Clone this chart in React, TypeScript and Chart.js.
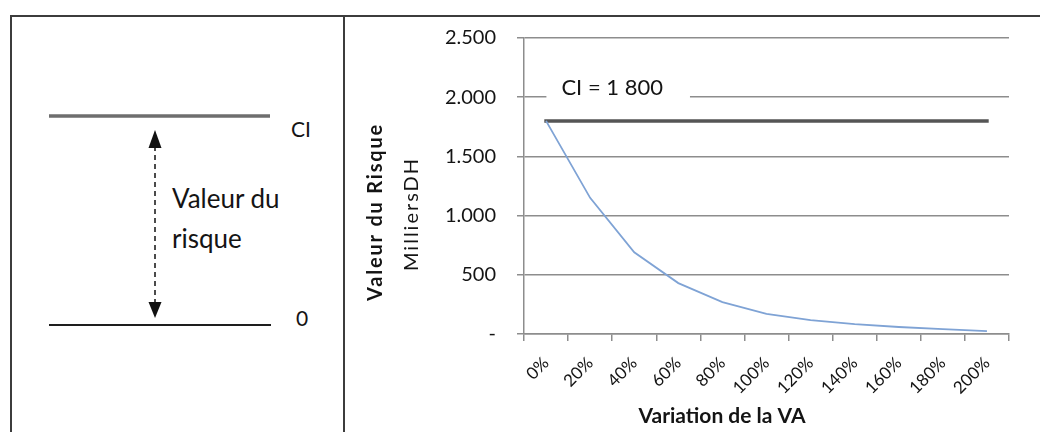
import React, { useEffect, useRef } from 'react';
import { Chart, registerables } from 'chart.js';

Chart.register(...registerables);

const categories = ['0%', '20%', '40%', '60%', '80%', '100%', '120%', '140%', '160%', '180%', '200%'];
const valeurRisque = [1800, 1150, 690, 430, 270, 170, 118, 84, 59, 42, 25];
const plafondCI = [1800, 1800, 1800, 1800, 1800, 1800, 1800, 1800, 1800, 1800, 1800];
const yMin = 0;
const yMax = 2500;
const yStep = 500;
const ciLabel = 'CI = 1 800';
const yTitle = 'Valeur du Risque';
const yUnit = 'MilliersDH';
const xTitle = 'Variation de la VA';

const GRID = '#8d8d8d';
const TEXT = '#141414';

const fmt = (v: number) => (v === 0 ? '-' : String(v).replace(/\B(?=(\d{3})+(?!\d))/g, '.'));

const decorations = {
  id: 'decorations',
  afterDatasetsDraw(chart: any) {
    const { ctx, scales } = chart;
    const x = scales.x;
    const y = scales.y;
    const cx = (x.getPixelForValue(1) + x.getPixelForValue(2)) / 2;
    const cy = y.getPixelForValue(2075);
    ctx.save();
    ctx.font = '22px Lato';
    const w = ctx.measureText(ciLabel).width;
    ctx.fillStyle = '#ffffff';
    ctx.fillRect(cx - w / 2 - 15, cy - 14, w + 42, 28);
    ctx.fillStyle = TEXT;
    ctx.textAlign = 'center';
    ctx.textBaseline = 'middle';
    ctx.fillText(ciLabel, cx, cy);
    ctx.restore();
  },
  afterDraw(chart: any) {
    const { ctx, chartArea } = chart;
    ctx.save();
    ctx.fillStyle = TEXT;
    ctx.textAlign = 'center';
    ctx.textBaseline = 'alphabetic';
    // y title
    ctx.save();
    ctx.translate(chartArea.left - 142, chartArea.top + 174);
    ctx.rotate(-Math.PI / 2);
    ctx.font = 'bold 20px Lato';
    (ctx as any).letterSpacing = '1.8px';
    ctx.fillText(yTitle, 0, 0);
    ctx.restore();
    ctx.save();
    ctx.translate(chartArea.left - 106, chartArea.top + 176);
    ctx.rotate(-Math.PI / 2);
    ctx.font = '20px Lato';
    (ctx as any).letterSpacing = '2px';
    ctx.fillText(yUnit, 0, 0);
    ctx.restore();
    // x title
    ctx.font = 'bold 21px Lato';
    ctx.fillText(xTitle, chartArea.left + 198, chartArea.bottom + 89);
    ctx.restore();
  },
};

function RightChart() {
  const ref = useRef<HTMLCanvasElement>(null);
  useEffect(() => {
    if (!ref.current) return;
    const chart = new Chart(ref.current, {
      type: 'line',
      data: {
        labels: categories,
        datasets: [
          {
            label: 'Valeur du risque',
            data: valeurRisque,
            borderColor: '#7fa3d5',
            borderWidth: 1.8,
            pointRadius: 0,
            tension: 0,
          },
          {
            label: 'CI',
            data: plafondCI,
            borderColor: '#555555',
            borderWidth: 3.5,
            pointRadius: 0,
            borderCapStyle: 'square',
          },
        ],
      },
      options: {
        responsive: false,
        animation: false,
        layout: { padding: { top: 20, right: 31, left: 0, bottom: 0 } },
        plugins: { legend: { display: false }, tooltip: { enabled: false } },
        scales: {
          x: {
            offset: true,
            grid: { display: true, offset: true, drawOnChartArea: false, color: GRID, lineWidth: 1.5, tickLength: 7 },
            border: { color: GRID, width: 1.5 },
            ticks: {
              minRotation: 45,
              maxRotation: 45,
              autoSkip: false,
              color: TEXT,
              padding: 12,
              font: { family: 'Lato', size: 17 },
            },
            afterFit: (s: any) => {
              s.height = 98;
              s.paddingLeft = 0;
              s.paddingRight = 0;
            },
          },
          y: {
            min: yMin,
            max: yMax,
            ticks: {
              stepSize: yStep,
              color: TEXT,
              padding: 21,
              font: { family: 'Lato', size: 20 },
              callback: (v: any) => fmt(Number(v)),
            },
            grid: { color: GRID, lineWidth: 1.5, tickLength: 7 },
            border: { color: GRID, width: 1.5 },
            afterFit: (s: any) => {
              s.width = 178;
              s.paddingTop = 0;
              s.paddingBottom = 0;
            },
          },
        },
      },
      plugins: [decorations],
    });
    return () => chart.destroy();
  }, []);
  return (
    <canvas
      ref={ref}
      width={694}
      height={414}
      style={{ position: 'absolute', left: 346, top: 18, width: 694, height: 414 }}
    />
  );
}

export default function App() {
  useEffect(() => {
    document.body.style.margin = '0';
  }, []);
  const txt = { fontFamily: 'Lato', fill: '#141414' } as const;
  return (
    <div style={{ position: 'relative', width: 1040, height: 432, overflow: 'hidden', background: '#fff' }}>
      <div style={{ position: 'absolute', left: 10, top: 15, width: 1030, height: 2, background: '#3c3c3c' }} />
      <div style={{ position: 'absolute', left: 10, top: 15, width: 2, height: 417, background: '#3c3c3c' }} />
      <div style={{ position: 'absolute', left: 343, top: 15, width: 2, height: 417, background: '#3c3c3c' }} />
      <svg width={340} height={432} style={{ position: 'absolute', left: 0, top: 0 }}>
        <line x1={49} x2={270} y1={116} y2={116} stroke="#6e6e6e" strokeWidth={3.5} />
        <line x1={49} x2={271} y1={325} y2={325} stroke="#1e1e1e" strokeWidth={2} />
        <line x1={155} x2={155} y1={146} y2={304} stroke="#111" strokeWidth={1.5} strokeDasharray="5 4" />
        <polygon points="155,130 148.5,148 161.5,148" fill="#111" />
        <polygon points="155,318 148.5,302 161.5,302" fill="#111" />
        <text x={291} y={137} fontSize={21} {...txt}>CI</text>
        <text x={296} y={326} fontSize={21} {...txt}>0</text>
        <text x={172} y={208} fontSize={26} {...txt}>Valeur du</text>
        <text x={172} y={248} fontSize={26} {...txt}>risque</text>
      </svg>
      <RightChart />
    </div>
  );
}
